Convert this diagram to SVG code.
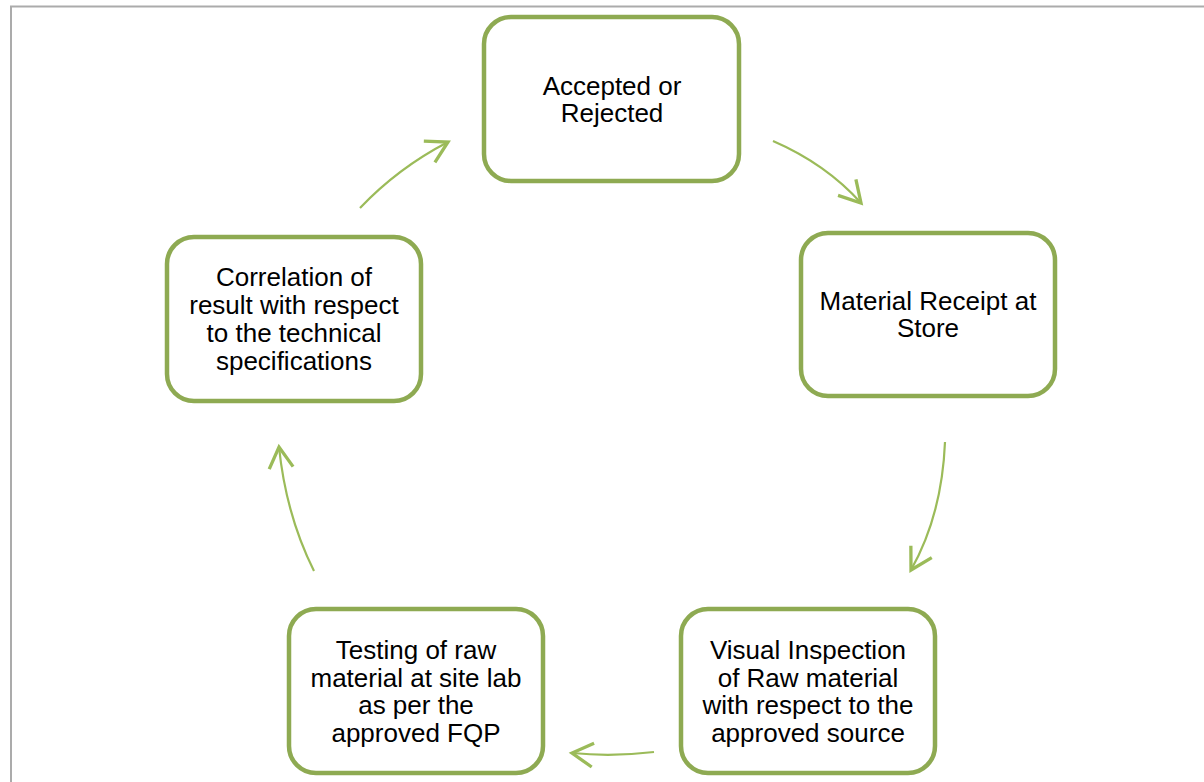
<svg xmlns="http://www.w3.org/2000/svg" width="1204" height="782" viewBox="0 0 1204 782">
<style>
.box{fill:#fff;stroke:#8EAA52;stroke-width:4.5}
.lbl{font-family:"Liberation Sans",Arial,sans-serif;font-size:26px;fill:#000;text-anchor:middle}
.conn{fill:none;stroke:#9BBB59;stroke-width:2.2}
.frame{stroke:#ABABAB;stroke-width:2;fill:none}
</style>
<defs>
<marker id="ah" markerUnits="userSpaceOnUse" markerWidth="30" markerHeight="30" refX="0" refY="0" viewBox="-16 -10 20 20" orient="auto" overflow="visible">
<path d="M-14,-8 L0,0 L-14,8" fill="none" stroke="#9BBB59" stroke-width="2.2"/>
</marker>
</defs>
<rect width="1204" height="782" fill="#fff"/>
<path class="frame" d="M11,782 L11,6.5 L1204,6.5"/>
<g id="connectors">
<path class="conn" marker-end="url(#ah)" d="M360,208 Q398,168 448,142"/>
<path class="conn" marker-end="url(#ah)" d="M773,141 Q826,164 861,203"/>
<path class="conn" marker-end="url(#ah)" d="M945,442 Q942,515 911,570"/>
<path class="conn" marker-end="url(#ah)" d="M654,752 Q612,757 572,753"/>
<path class="conn" marker-end="url(#ah)" d="M314,571 Q286,515 279,447"/>
</g>
<g id="n1">
<rect class="box" x="484" y="17" width="255" height="164" rx="27"/>
<text class="lbl" x="612" y="95">Accepted or</text>
<text class="lbl" x="612" y="122">Rejected</text>
</g>
<g id="n2">
<rect class="box" x="801" y="233" width="254" height="163" rx="27"/>
<text class="lbl" x="928" y="310">Material Receipt at</text>
<text class="lbl" x="928" y="337">Store</text>
</g>
<g id="n3">
<rect class="box" x="681" y="609" width="254" height="164" rx="27"/>
<text class="lbl" x="808" y="659">Visual Inspection</text>
<text class="lbl" x="808" y="687">of Raw material</text>
<text class="lbl" x="808" y="714">with respect to the</text>
<text class="lbl" x="808" y="742">approved source</text>
</g>
<g id="n4">
<rect class="box" x="289" y="609" width="254" height="164" rx="27"/>
<text class="lbl" x="416" y="659">Testing of raw</text>
<text class="lbl" x="416" y="687">material at site lab</text>
<text class="lbl" x="416" y="714">as per the</text>
<text class="lbl" x="416" y="742">approved FQP</text>
</g>
<g id="n5">
<rect class="box" x="167" y="237" width="254" height="164" rx="27"/>
<text class="lbl" x="294" y="286">Correlation of</text>
<text class="lbl" x="294" y="314">result with respect</text>
<text class="lbl" x="294" y="342">to the technical</text>
<text class="lbl" x="294" y="370">specifications</text>
</g>
</svg>
